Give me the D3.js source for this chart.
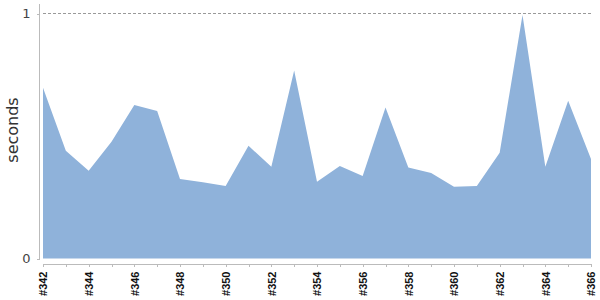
<!DOCTYPE html>
<html>
<head>
<meta charset="utf-8">
<script src="https://cdn.jsdelivr.net/npm/d3@7"></script>
<style>
	body { margin: 0; background: #fff; }
	.axis path, .axis line { stroke: #bbb; shape-rendering: crispEdges; }
</style>
</head>
<body>
<div id="chart"></div>
<script>

// build numbers
var builds = ["#342","#343","#344","#345","#346","#347","#348","#349","#350","#351","#352","#353","#354",
	"#355","#356","#357","#358","#359","#360","#361","#362","#363","#364","#365","#366"];
// duration in seconds
var seconds = [0.697,0.44,0.358,0.477,0.627,0.602,0.324,0.311,0.296,0.46,0.375,0.767,0.313,
	0.378,0.337,0.616,0.371,0.349,0.293,0.296,0.432,0.994,0.375,0.644,0.406];
var yTicks = [0, 1];

// set the specs
var width = 600;
var height = 300;
var marginLeft = 43;
var marginRight = 9;
var marginTop = 13.5;
var marginBottom = 41.5;

var svg = d3.select("#chart")
	.append("svg")
	.attr("width", width)
	.attr("height", height);

var xScale = d3.scalePoint()
	.domain(builds)
	.range([marginLeft, width - marginRight]);

var yScale = d3.scaleLinear()
	.domain([0, 1])
	.range([height - marginBottom, marginTop]);

// area
var area = d3.area()
	.x(function(d, i){ return xScale(builds[i]); })
	.y0(yScale(0))
	.y1(function(d){ return yScale(d); });

svg.append("path")
	.datum(seconds)
	.attr("d", area)
	.attr("fill", "#8fb2da");

// dashed max line
svg.append("line")
	.attr("x1", marginLeft)
	.attr("x2", width - marginRight)
	.attr("y1", yScale(1))
	.attr("y2", yScale(1))
	.attr("stroke", "#999")
	.attr("stroke-dasharray", "3,2");

// y axis
var yAxis = d3.axisLeft(yScale)
	.tickValues(yTicks)
	.tickSize(3)
	.tickPadding(6)
	.tickFormat(d3.format("d"));

var gy = svg.append("g")
	.attr("class", "axis")
	.attr("transform", "translate(39.5,0)")
	.call(yAxis);
gy.select(".domain").attr("d", "M0,4V" + (yScale(0)));
gy.selectAll("text")
	.style("font-family", "DejaVu Sans, sans-serif")
	.style("font-size", "13px")
	.attr("fill", "#444");

// x axis
var xAxis = d3.axisBottom(xScale)
	.tickSize(3)
	.tickSizeOuter(0)
	.tickFormat(function(d, i){ return i % 2 == 0 ? d : ""; });

var gx = svg.append("g")
	.attr("class", "axis")
	.attr("transform", "translate(0," + (yScale(0) + 5) + ")")
	.call(xAxis);
gx.selectAll("text")
	.style("font-family", "Liberation Sans, Arial, sans-serif")
	.style("font-size", "11px")
	.style("font-weight", "bold")
	.attr("fill", "#111")
	.attr("text-anchor", "end")
	.attr("transform", "rotate(-90)")
	.attr("x", -8)
	.attr("y", 0)
	.attr("dy", "0.35em");

// y label
svg.append("text")
	.attr("transform", "translate(18,130) rotate(-90)")
	.attr("text-anchor", "middle")
	.style("font-family", "DejaVu Sans, sans-serif")
	.style("font-size", "16px")
	.attr("fill", "#333")
	.text("seconds");

</script>
</body>
</html>
